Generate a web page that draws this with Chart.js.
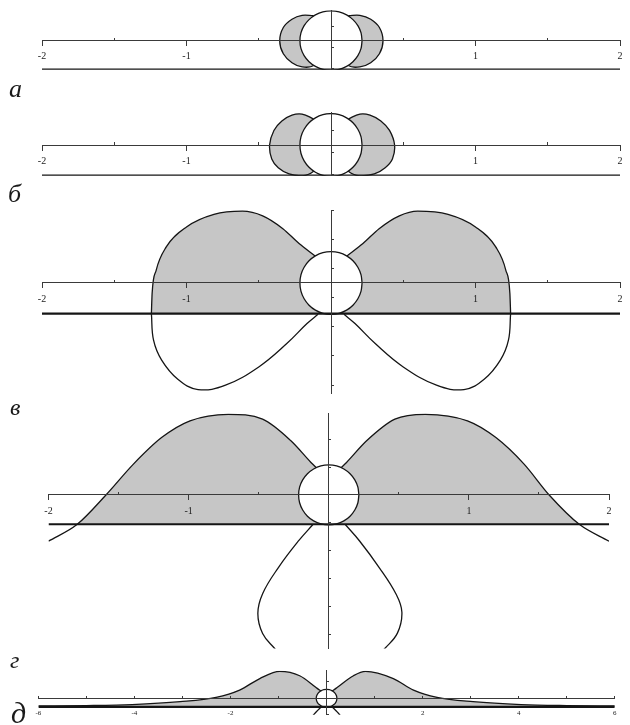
<!DOCTYPE html>
<html>
<head>
<meta charset="utf-8">
<title>Chart</title>
<script src="https://cdn.jsdelivr.net/npm/chart.js"></script>
<style>
  body { margin: 0; background: #fff; }
  #wrap { position: relative; width: 630px; height: 725px; overflow: hidden; background: #fff; }
  canvas { position: absolute; left: 0; top: 0; }
  .lbl { position: absolute; font-family: 'Liberation Serif', serif; font-style: italic; line-height: 1; color: #1a1a1a; }
</style>
</head>
<body>
<div id="wrap">
  <canvas id="pa" width="630" height="725"></canvas>
  <canvas id="pb" width="630" height="725"></canvas>
  <canvas id="pv" width="630" height="725"></canvas>
  <canvas id="pg" width="630" height="725"></canvas>
  <canvas id="pd" width="630" height="725"></canvas>
  <div class="lbl" style="left:9px;top:76px;font-size:26px">а</div>
  <div class="lbl" style="left:8px;top:181px;font-size:26px">б</div>
  <div class="lbl" style="left:10px;top:395px;font-size:24px">в</div>
  <div class="lbl" style="left:10px;top:648px;font-size:24px">г</div>
  <div class="lbl" style="left:11px;top:698px;font-size:30px">д</div>
</div>
<script>
  // tick labels
  const labelsSmall = [-2, -1, 1, 2];
  const labelsWide = [-6, -4, -2, 2, 4, 6];

  // central circle, same in every panel
  const circleX = [0.215, 0.208, 0.186, 0.152, 0.108, 0.056, 0, -0.056, -0.108, -0.152, -0.186, -0.208, -0.215, -0.208, -0.186, -0.152, -0.108, -0.056, 0, 0.056, 0.108, 0.152, 0.186, 0.208, 0.215];
  const circleY = [0, 0.056, 0.108, 0.152, 0.186, 0.208, 0.215, 0.208, 0.186, 0.152, 0.108, 0.056, 0, -0.056, -0.108, -0.152, -0.186, -0.208, -0.215, -0.208, -0.186, -0.152, -0.108, -0.056, 0];

  // thick lower line
  const baseX = [-2, 2];
  const baseXWide = [-6, 6];
  const baseY = [-0.21, -0.21];

  // panel a
  const aLeftX = [-0.12, -0.2, -0.27, -0.33, -0.355, -0.33, -0.27, -0.2, -0.12, -0.05, -0.05];
  const aLeftY = [0.18, 0.183, 0.155, 0.095, 0, -0.095, -0.16, -0.19, -0.18, -0.08, 0.08];
  const aRightX = [0.12, 0.2, 0.275, 0.335, 0.36, 0.335, 0.275, 0.2, 0.12, 0.05, 0.05];
  const aRightY = [0.18, 0.183, 0.155, 0.095, 0, -0.095, -0.16, -0.19, -0.18, -0.08, 0.08];

  // panel b
  const bLeftX = [-0.12, -0.2, -0.27, -0.34, -0.395, -0.425, -0.41, -0.365, -0.29, -0.2, -0.12, -0.05, -0.05];
  const bLeftY = [0.178, 0.212, 0.205, 0.165, 0.1, 0, -0.095, -0.155, -0.198, -0.212, -0.18, -0.08, 0.08];
  const bRightX = [0.12, 0.2, 0.27, 0.345, 0.405, 0.44, 0.425, 0.375, 0.3, 0.2, 0.12, 0.05, 0.05];
  const bRightY = [0.178, 0.212, 0.205, 0.165, 0.1, 0, -0.095, -0.155, -0.198, -0.212, -0.18, -0.08, 0.08];

  // panel v
  const vUpLX = [-1.243, -1.238, -1.21, -1.14, -1.0, -0.81, -0.613, -0.473, -0.333, -0.221, -0.11, 0];
  const vUpLY = [-0.21, -0.073, 0.087, 0.247, 0.384, 0.47, 0.492, 0.46, 0.372, 0.27, 0.185, 0.1];
  const vUpRX = [0, 0.11, 0.221, 0.333, 0.473, 0.6, 0.81, 1.0, 1.14, 1.21, 1.238, 1.243];
  const vUpRY = [0.1, 0.185, 0.27, 0.372, 0.46, 0.492, 0.47, 0.384, 0.247, 0.087, -0.073, -0.21];
  const vLowLX = [-1.243, -1.228, -1.172, -1.06, -0.92, -0.73, -0.5, -0.306, -0.166, -0.09];
  const vLowLY = [-0.21, -0.392, -0.529, -0.66, -0.73, -0.7, -0.575, -0.415, -0.278, -0.215];
  const vLowRX = [1.243, 1.228, 1.172, 1.06, 0.92, 0.73, 0.5, 0.306, 0.166, 0.09];
  const vLowRY = [-0.21, -0.392, -0.529, -0.66, -0.73, -0.7, -0.575, -0.415, -0.278, -0.215];

  // panel g
  const gUpLX = [-2, -1.797, -1.59, -1.394, -1.193, -0.99, -0.717, -0.472, -0.27, -0.127, -0.09, 0];
  const gUpLY = [-0.331, -0.212, 0, 0.221, 0.411, 0.531, 0.578, 0.543, 0.388, 0.233, 0.197, 0.1];
  const gUpRX = [0, 0.09, 0.127, 0.27, 0.472, 0.69, 0.99, 1.193, 1.394, 1.573, 1.79, 2];
  const gUpRY = [0.1, 0.197, 0.233, 0.388, 0.543, 0.578, 0.531, 0.411, 0.221, 0, -0.212, -0.331];
  const gLowLX = [-0.113, -0.213, -0.357, -0.472, -0.506, -0.472, -0.386, -0.33];
  const gLowLY = [-0.212, -0.326, -0.517, -0.707, -0.85, -0.993, -1.1, -1.16];
  const gLowRX = [0.118, 0.22, 0.36, 0.48, 0.522, 0.49, 0.4, 0.34];
  const gLowRY = [-0.212, -0.33, -0.52, -0.71, -0.84, -0.99, -1.1, -1.16];

  // panel d
  const dUpLX = [-6, -5, -4.05, -3.05, -2.3, -1.81, -1.39, -0.975, -0.56, -0.226, -0.148, 0];
  const dUpLY = [-0.185, -0.175, -0.151, -0.081, 0.024, 0.2, 0.479, 0.653, 0.548, 0.269, 0.2, 0.1];
  const dUpRX = [0, 0.148, 0.226, 0.56, 0.81, 1.39, 1.81, 2.3, 3.05, 4.05, 5, 6];
  const dUpRY = [0.1, 0.2, 0.269, 0.548, 0.653, 0.479, 0.2, 0.024, -0.081, -0.151, -0.175, -0.185];
  const dLowLX = [-0.113, -0.213, -0.357];
  const dLowLY = [-0.212, -0.326, -0.517];
  const dLowRX = [0.118, 0.22, 0.36];
  const dLowRY = [-0.212, -0.33, -0.52];

  const GRAY = '#c6c6c6';
  const LINE = '#151515';
  const AXIS = '#3a3a3a';
  const TEXT = '#222';
  const NONE = 'rgba(0,0,0,0)';

  function pts(xs, ys) {
    return xs.map((x, i) => ({ x: x, y: ys[i] }));
  }

  function curve(xs, ys, opt) {
    return Object.assign({
      data: pts(xs, ys), showLine: true, pointRadius: 0, pointHoverRadius: 0,
      borderColor: LINE, borderWidth: 1.3, tension: 0.4, fill: false, order: 2
    }, opt);
  }
  const lobe = (xs, ys) => curve(xs, ys, { fill: 'shape', backgroundColor: GRAY });
  const upper = (xs, ys) => curve(xs, ys, {
    cubicInterpolationMode: 'monotone',
    fill: { target: { value: -0.21 }, above: GRAY, below: NONE }, backgroundColor: GRAY
  });
  const circle = () => curve(circleX, circleY, { fill: 'shape', backgroundColor: '#fff', order: 1, tension: 0.3 });
  const base = (xs) => curve(xs, baseY, { borderWidth: 2.2, tension: 0, order: 0 });

  function xMain(min, max, step, labels, tl, pad, size) {
    return {
      type: 'linear', min: min, max: max, position: { y: 0 },
      border: { color: AXIS, width: 1, z: 1 },
      grid: { drawOnChartArea: false, tickLength: tl, tickColor: AXIS, z: 1 },
      ticks: {
        z: 1, stepSize: step, autoSkip: false, maxRotation: 0, minRotation: 0, padding: pad, color: TEXT,
        font: { family: 'Liberation Serif', size: size },
        callback: v => labels.includes(v) ? String(v) : ''
      },
      afterFit: s => { s.height = 0; }
    };
  }
  function xMinor(min, max) {
    return {
      type: 'linear', min: min, max: max, position: { y: 0 },
      border: { display: false },
      grid: { z: 1, drawOnChartArea: false, tickLength: -3, tickColor: c => (Math.abs(c.tick.value % 1) > 0.01 ? AXIS : NONE) },
      ticks: { stepSize: 0.5, autoSkip: false, maxRotation: 0, minRotation: 0, callback: () => '' },
      afterFit: s => { s.height = 0; }
    };
  }
  function yAxis(min, max, step) {
    return {
      type: 'linear', min: min, max: max, position: { x: 0 },
      border: { color: AXIS, width: 1, z: 1 },
      grid: { z: 1, drawOnChartArea: false, tickLength: -3, tickColor: AXIS },
      ticks: { stepSize: step, includeBounds: false, callback: () => '' },
      afterFit: s => { s.width = 0; }
    };
  }

  function panel(id, box, scales, datasets) {
    new Chart(document.getElementById(id), {
      type: 'scatter',
      data: { datasets: datasets },
      options: {
        responsive: false, animation: false, events: [],
        layout: { padding: { left: box[0], right: 630 - box[1], top: box[2], bottom: 725 - box[3] } },
        plugins: { legend: { display: false }, tooltip: { enabled: false } },
        scales: scales
      }
    });
  }

  panel('pa', [42, 620, 7, 69.7],
    { x: xMain(-2, 2, 1, labelsSmall, 5, 5, 10), xm: xMinor(-2, 2), y: yAxis(-0.21, 0.22, 0.05) },
    [lobe(aLeftX, aLeftY), lobe(aRightX, aRightY), circle(), base(baseX)]);

  panel('pb', [42, 620, 112.9, 175.7],
    { x: xMain(-2, 2, 1, labelsSmall, 5, 5, 10), xm: xMinor(-2, 2), y: yAxis(-0.21, 0.22, 0.05) },
    [lobe(bLeftX, bLeftY), lobe(bRightX, bRightY), circle(), base(baseX)]);

  panel('pv', [42, 620, 210, 393.2],
    { x: xMain(-2, 2, 1, labelsSmall, 5, 5, 10), xm: xMinor(-2, 2), y: yAxis(-0.755, 0.5, 0.1) },
    [upper(vUpLX, vUpLY), upper(vUpRX, vUpRY), curve(vLowLX, vLowLY), curve(vLowRX, vLowRY), circle(), base(baseX)]);

  panel('pg', [48.5, 609, 413.3, 648.5],
    { x: xMain(-2, 2, 1, labelsSmall, 5, 5, 10), xm: xMinor(-2, 2), y: yAxis(-1.1, 0.585, 0.2) },
    [upper(gUpLX, gUpLY), upper(gUpRX, gUpRY), curve(gLowLX, gLowLY), curve(gLowRX, gLowRY), circle(), base(baseX)]);

  panel('pd', [38.4, 622, 670.7, 721.6],
    { x: xMain(-6, 6, 1, labelsWide, -3, 13.5, 7), y: yAxis(-0.4, 0.67, 0.2) },
    [upper(dUpLX, dUpLY), upper(dUpRX, dUpRY), curve(dLowLX, dLowLY), curve(dLowRX, dLowRY), circle(), base(baseXWide)]);
</script>
</body>
</html>
